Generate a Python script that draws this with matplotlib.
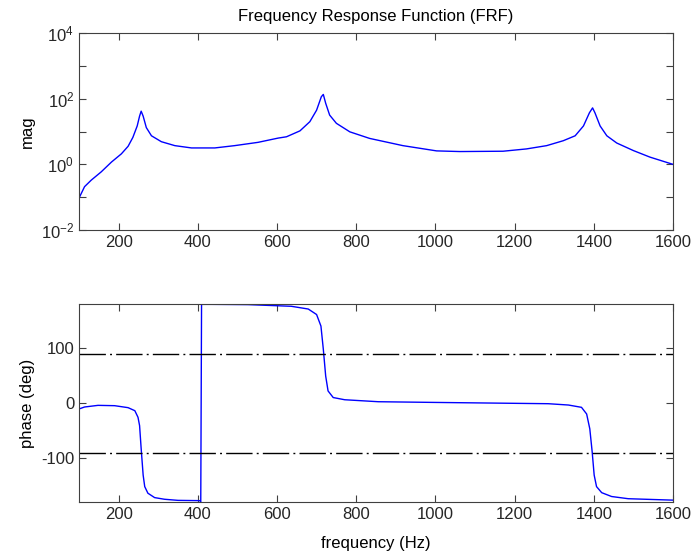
import numpy as np
import matplotlib
matplotlib.use('Agg')
import matplotlib.pyplot as plt
from matplotlib.ticker import NullLocator, FixedLocator, FixedFormatter

plt.rcParams['font.family'] = ['Liberation Sans', 'DejaVu Sans']
plt.rcParams['mathtext.default'] = 'regular'
plt.rcParams['axes.unicode_minus'] = False
fontsize = 12
edge = '#404040'

# magnitude (log10 of mag)
freq_mag = [100, 114, 131, 156, 182, 207, 224, 236, 247, 253, 257, 262, 270, 283, 308,
            342, 384, 443, 493, 552, 603, 624, 658, 683, 700, 712, 717, 723, 733,
            750, 784, 834, 918, 1003, 1062, 1171, 1230, 1281, 1323, 1353, 1374,
            1389, 1397, 1403, 1416, 1433, 1458, 1500, 1542, 1600]
log_mag = [-1.03, -0.68, -0.48, -0.23, 0.07, 0.32, 0.55, 0.82, 1.17, 1.47, 1.62, 1.47,
           1.12, 0.87, 0.69, 0.57, 0.50, 0.50, 0.57, 0.67, 0.80, 0.84, 1.02, 1.30,
           1.65, 2.06, 2.13, 1.86, 1.50, 1.25, 0.99, 0.79, 0.57, 0.41, 0.39, 0.40,
           0.47, 0.57, 0.72, 0.87, 1.17, 1.57, 1.72, 1.57, 1.17, 0.87, 0.65, 0.42,
           0.22, 0.0]
mag = [10**v for v in log_mag]

# phase
freq_ph = [100, 114, 148, 190, 224, 241, 249, 253, 257, 262, 266, 274, 291, 316, 350,
           405, 407.5, 408.5, 409.5, 434, 527, 636, 679, 700, 711, 717, 723, 729, 742,
           771, 856, 991, 1285, 1336, 1369, 1382, 1390, 1396, 1401, 1407, 1420, 1445,
           1487, 1600]
phase = [-10.8, -7.2, -4.2, -4.8, -8.4, -13.9, -25.9, -41, -83, -131, -152, -164,
         -172, -175, -177, -177.5, -179.5, 0, 179.5, 179.5, 179, 176, 171, 161, 140,
         98, 49, 22, 10, 6, 2.4, 1.2, -1.2, -3.6, -7.8, -19.9, -47, -89, -131, -152,
         -163, -170, -174, -176.6]

xticks = [200, 400, 600, 800, 1000, 1200, 1400, 1600]

fig = plt.figure(figsize=(6.96, 5.56), dpi=100)
ax1 = fig.add_axes([0.1135, 0.5863, 0.8534, 0.3543])
ax2 = fig.add_axes([0.1135, 0.0971, 0.8534, 0.356])

ax1.semilogy(freq_mag, mag, color='#0000ff', lw=1)
ax1.set_xlim(100, 1600)
ax1.set_ylim(1e-2, 1e4)
ax1.yaxis.set_major_locator(FixedLocator([10.0**k for k in range(-2, 5)]))
ax1.yaxis.set_major_formatter(FixedFormatter(
    [r'$10^{%d}$' % k if k % 2 == 0 else '' for k in range(-2, 5)]))
ax1.yaxis.set_minor_locator(NullLocator())
ax1.set_ylabel('mag', fontsize=fontsize)
ax1.set_title('Frequency Response Function (FRF)', fontsize=fontsize, pad=9)

ax2.plot(freq_ph, phase, color='#0000ff', lw=1)
for yy in (90, -90):
    ax2.axhline(yy, color='black', lw=1, dashes=(19, 3, 1.4, 3))
ax2.set_xlim(100, 1600)
ax2.set_ylim(-180, 180)
ax2.set_yticks([-100, 0, 100])
ax2.set_ylabel('phase (deg)', fontsize=fontsize)
ax2.set_xlabel('frequency (Hz)', fontsize=fontsize, labelpad=10)

for ax in (ax1, ax2):
    ax.set_xticks(xticks)
    ax.tick_params(direction='in', top=True, right=True, length=5, width=0.8,
                   color=edge, labelcolor='#262626', labelsize=fontsize)
    for s in ax.spines.values():
        s.set_color(edge)
        s.set_linewidth(0.8)

plt.savefig('out.png', dpi=100)
